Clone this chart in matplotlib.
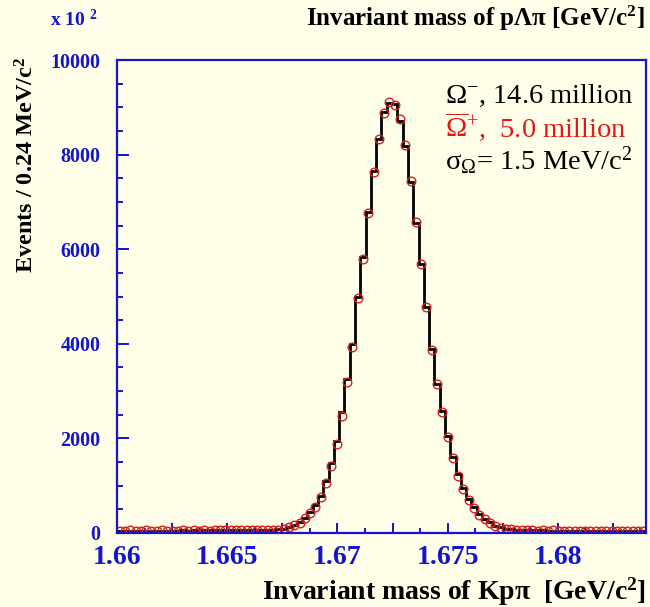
import numpy as np
import matplotlib
matplotlib.use("Agg")
from matplotlib import pyplot as plt
from matplotlib.ticker import MultipleLocator, FuncFormatter

plt.rcParams['font.family'] = ['Liberation Serif', 'DejaVu Serif']
plt.rcParams['mathtext.fontset'] = 'custom'
plt.rcParams['mathtext.rm'] = 'Liberation Serif'
plt.rcParams['mathtext.it'] = 'Liberation Serif:italic'
plt.rcParams['mathtext.bf'] = 'Liberation Serif:bold'

# histogram range: 100 bins of 0.24 MeV
m_lo, m_hi, n_bins = 1.66, 1.684, 100

# Omega- (histogram), events / 100
omega_minus = [
    50, 51, 52, 49, 50, 51, 50, 52, 51, 50,
    52, 51, 53, 52, 54, 52, 55, 54, 56, 57,
    57, 59, 58, 61, 62, 64, 64, 67, 68, 72,
    75, 85, 125, 170, 230, 325, 440, 590, 790, 1100,
    1480, 1950, 2560, 3260, 4000, 4990, 5830, 6790, 7650, 8340,
    8910, 9100, 9060, 8720, 8180, 7430, 6560, 5680, 4770, 3880,
    3160, 2580, 2050, 1610, 1240, 950, 720, 540, 395, 300,
    225, 158, 118, 95, 80, 70, 63, 59, 56, 54,
    53, 52, 51, 50, 51, 50, 49, 50, 49, 50,
    48, 49, 48, 49, 48, 47, 48, 47, 48, 47,
]

# anti-Omega+ (circles), scaled
omega_plus_bar = [
    52, 49, 55, 50, 47, 53, 51, 48, 54, 50,
    52, 49, 55, 51, 53, 50, 56, 52, 54, 57,
    55, 58, 56, 60, 59, 63, 61, 66, 64, 70,
    72, 80, 118, 160, 215, 308, 415, 555, 752, 1050,
    1415, 1875, 2470, 3190, 3940, 4960, 5800, 6770, 7640, 8330,
    8890, 9120, 9040, 8750, 8200, 7440, 6580, 5690, 4780, 3870,
    3150, 2560, 2020, 1580, 1210, 925, 700, 520, 380, 290,
    215, 150, 112, 90, 76, 66, 60, 57, 55, 52,
    54, 50, 53, 49, 51, 48, 52, 50, 47, 51,
    49, 46, 50, 48, 52, 47, 49, 50, 46, 48,
]

bg = '#fffee8'
blue = '#1414c8'

edges = np.linspace(m_lo, m_hi, n_bins + 1)
centers = 0.5 * (edges[:-1] + edges[1:])

fig = plt.figure(figsize=(6.5, 6.07), dpi=100, facecolor=bg)
ax = fig.add_axes([117 / 650, 1 - 533 / 607, 529 / 650, 473 / 607], facecolor=bg)

ax.stairs(omega_minus, edges, color='black', linewidth=2.0, baseline=None)
ax.plot(centers, omega_plus_bar, linestyle='none', marker='o', markersize=6.2,
        markerfacecolor='none', markeredgecolor='#d42020', markeredgewidth=1.0)

ax.set_xlim(m_lo, m_hi)
ax.set_ylim(0, 10000)

for s in ax.spines.values():
    s.set_color(blue)
    s.set_linewidth(1.6)

ax.xaxis.set_major_locator(MultipleLocator(0.0025))
ax.xaxis.set_minor_locator(MultipleLocator(0.00125))
ax.xaxis.set_major_formatter(FuncFormatter(
    lambda v, p: '%g' % round(v, 3) if abs(v / 0.005 - round(v / 0.005)) < 1e-6 else ''))
ax.yaxis.set_major_locator(MultipleLocator(2000))
ax.yaxis.set_minor_locator(MultipleLocator(500))
ax.yaxis.set_major_formatter(FuncFormatter(lambda v, p: '%d' % v))

ax.tick_params(which='both', direction='in', color=blue, labelcolor=blue, width=1.4,
               top=False, right=False)
ax.tick_params(axis='x', which='major', length=7, pad=8.5, labelsize=20)
ax.tick_params(axis='x', which='minor', length=3.6)
ax.tick_params(axis='y', which='major', length=8.5, pad=12, labelsize=14.5)
ax.tick_params(axis='y', which='minor', length=4.3)
for lab in ax.get_xticklabels() + ax.get_yticklabels():
    lab.set_fontweight('bold')

# axis titles
fig.text(646 / 650, 1 - 592 / 607, r'Invariant mass of Kpπ  [GeV/c$^{\mathbf{2}}$]',
         ha='right', va='center', fontsize=20, fontweight='bold', color='black')
fig.text(27 / 650, 1 - 165 / 607, r'Events / 0.24 MeV/c$^{\mathbf{2}}$',
         rotation=90, ha='center', va='center', fontsize=17.5, fontweight='bold')
fig.text(645 / 650, 1 - 26 / 607, r'Invariant mass of pΛπ [GeV/c$^{\mathbf{2}}$]',
         ha='right', va='baseline', fontsize=18, fontweight='bold', color='black')
fig.text(50 / 650, 1 - 26 / 607, r'x 10 $^{\mathbf{2}}$', ha='left', va='baseline',
         fontsize=14, fontweight='bold', color=blue)

# sample annotations
fig.text(445 / 650, 1 - 103 / 607, r'Ω$^{-}$, 14.6 million', ha='left',
         va='baseline', fontsize=20.5, color='black')
fig.text(445 / 650, 1 - 137 / 607, r'$\overline{\mathrm{Ω}}^{+}$,  5.0 million', ha='left',
         va='baseline', fontsize=20.5, color='#e01818')
fig.text(445 / 650, 1 - 170 / 607, r'σ$_{\mathrm{Ω}}$= 1.5 MeV/c$^{2}$', ha='left',
         va='baseline', fontsize=20.5, color='black')

fig.savefig('out.png', dpi=100, facecolor=bg)
